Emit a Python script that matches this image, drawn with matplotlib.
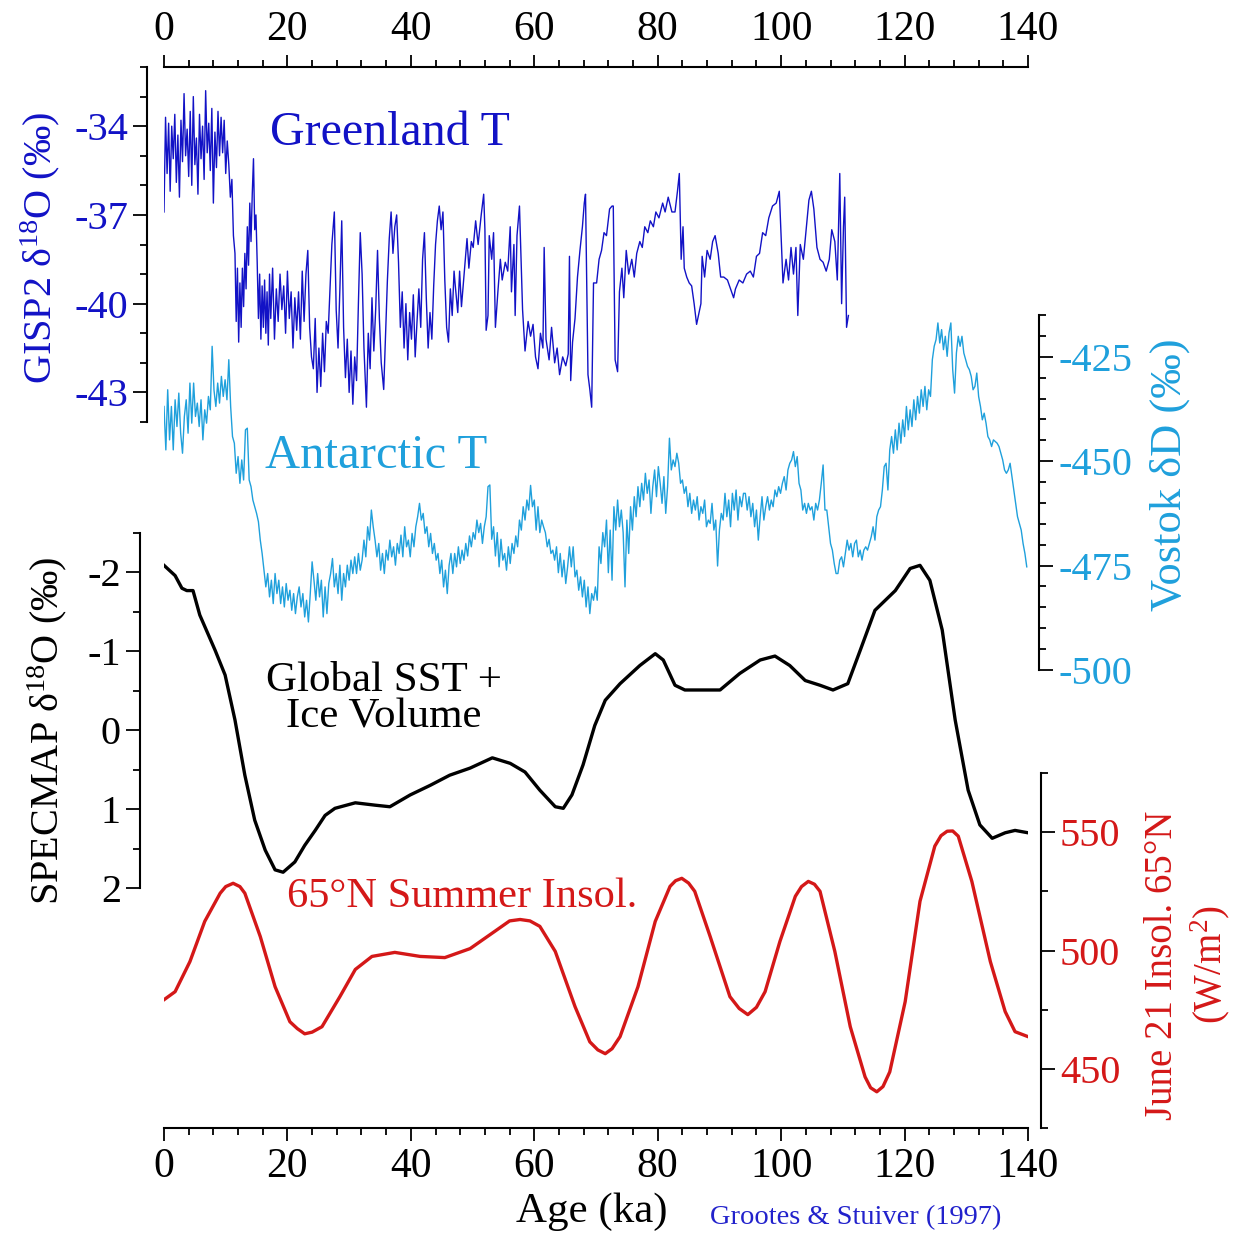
import numpy as np
import matplotlib
matplotlib.use("Agg")
import matplotlib.pyplot as plt
from matplotlib.ticker import MultipleLocator, FixedLocator

plt.rcParams['font.family'] = 'Liberation Serif'
plt.rcParams['mathtext.fontset'] = 'custom'
plt.rcParams['mathtext.rm'] = 'Liberation Serif'
plt.rcParams['mathtext.default'] = 'regular'
plt.rcParams['axes.unicode_minus'] = False

#==================== data ====================#
# GISP2 d18O (permil) vs age (ka)
gisp_age = [0.0, 0.25, 0.5, 0.75, 1.0, 1.25, 1.5, 1.75, 2.0, 2.25, 2.5, 2.75, 3.0, 3.25, 3.5, 3.75, 4.0, 4.25, 4.5, 4.75,
            5.0, 5.25, 5.5, 5.75, 6.0, 6.25, 6.5, 6.75, 7.0, 7.25, 7.5, 7.75, 8.0, 8.25, 8.5, 8.75, 9.0, 9.25, 9.5, 9.75,
            10.0, 10.25, 10.5, 10.75, 11.0, 11.25,
            11.5, 11.7, 11.9, 12.1, 12.3, 12.5, 12.7, 12.9, 13.1, 13.3, 13.5, 13.7, 13.9, 14.1, 14.3, 14.5, 14.7, 14.9,
            15.1, 15.3, 15.5, 15.7, 15.9, 16.1, 16.3, 16.5, 16.7, 16.9, 17.1,
            17.3, 17.6, 17.9, 18.2, 18.5, 18.8, 19.1, 19.4, 19.7, 20.0, 20.3, 20.6, 20.9, 21.2, 21.5, 21.8, 22.1, 22.4, 22.7, 23.0, 23.3, 23.6, 23.9,
            24.2, 24.5, 24.8, 25.1, 25.4, 25.7, 26.0, 26.3, 26.6, 26.9, 27.2, 27.6, 27.9, 28.2, 28.5, 28.8, 29.1, 29.4, 29.7, 30.0, 30.3, 30.6, 30.9, 31.2,
            31.5, 31.8, 32.1, 32.4, 32.8, 33.1, 33.4, 33.7, 34.0, 34.3, 34.6, 34.9, 35.2, 35.6, 35.9, 36.2, 36.5, 36.8, 37.1, 37.4, 37.7, 38.0,
            38.3, 38.6, 38.9, 39.2, 39.5, 39.8, 40.1, 40.4, 40.7, 41.0, 41.3, 41.6, 41.9, 42.2, 42.5, 42.8, 43.1, 43.4, 43.7, 44.0, 44.3, 44.6, 44.9, 45.2, 45.5, 45.8, 46.1, 46.4, 46.7, 47.0,
            47.2, 47.6, 47.9, 48.2, 48.7, 49.1, 49.4, 49.8, 50.1, 50.5, 50.9, 51.4, 51.8, 52.0, 52.2, 52.5, 52.7, 53.1, 53.4, 53.7, 54.1, 54.5, 54.8, 55.3, 55.7, 56.1, 56.3, 56.7, 56.9,
            57.2, 57.6, 57.9, 58.1, 58.5, 59.0, 59.4, 59.8, 60.2, 60.6, 61.0, 61.4, 61.6, 61.9, 62.4, 62.8, 63.3, 63.7, 64.1, 64.6, 65.1, 65.5, 65.7, 65.9,
            66.2, 66.6, 67.0, 67.4, 67.8, 68.1, 68.3, 68.7, 69.0, 69.3, 69.6, 70.1, 70.5, 70.9, 71.3, 71.7, 72.2, 72.6, 72.8, 73.1, 73.5,
            73.8, 74.2, 74.5, 74.9, 75.3, 75.8, 76.2, 76.6, 77.1, 77.5, 77.9, 78.4, 78.8, 79.3, 79.7, 80.2, 80.8, 81.2, 81.7, 82.3, 82.8, 83.2, 83.5,
            83.8, 84.1, 84.3, 84.7, 85.1, 85.5, 85.9, 86.3, 86.6, 87.0, 87.2, 87.6, 88.0, 88.5, 88.9, 89.3, 89.8, 90.2, 90.7, 91.3, 91.8, 92.3, 92.6, 93.2,
            93.8, 94.4, 95.0, 95.5, 96.0, 96.5, 97.0, 97.5, 98.0, 98.6, 99.2, 99.7, 100.3, 100.8, 101.2, 101.6, 102.0, 102.4, 102.7, 103.1, 103.6, 104.0, 104.5, 104.9,
            105.3, 105.8, 106.3, 106.8, 107.3, 107.8, 108.2, 108.7, 109.1, 109.5, 109.8, 110.1, 110.3, 110.6, 110.9]
gisp_d18o = [-36.9, -33.7, -35.6, -33.9, -36.2, -34.0, -35.1, -33.6, -35.9, -34.3, -36.4, -33.8, -35.2, -32.9, -35.0, -34.1, -35.7, -33.5, -36.0, -33.0,
             -35.3, -34.4, -36.3, -33.6, -35.1, -34.0, -35.8, -32.8, -34.9, -33.9, -35.5, -33.4, -36.6, -34.2, -35.4, -33.5, -35.0, -33.7, -34.9, -33.8,
             -35.6, -34.5, -35.3, -36.4, -35.8, -37.7,
             -38.3, -40.6, -38.8, -41.3, -39.3, -40.8, -38.8, -40.1, -38.3, -39.5, -37.4, -38.7, -36.6, -37.9, -36.3, -35.1, -37.5, -37.0,
             -38.6, -40.5, -39.0, -41.2, -39.4, -40.8, -39.2, -41.0, -39.6, -41.4, -39.0,
             -40.5, -38.8, -41.2, -39.5, -40.6, -39.0, -40.2, -39.4, -41.0, -38.9, -40.5, -39.6, -41.5, -39.8, -40.9, -39.6, -41.2, -38.9, -40.6, -39.0, -38.2, -40.8, -41.8,
             -42.2, -40.5, -43.0, -41.5, -42.8, -41.0, -42.3, -40.6, -41.0, -39.5, -38.0, -36.9, -40.2, -41.5, -39.5, -37.2, -40.8, -42.5, -41.2, -43.0, -41.6, -43.4, -41.8, -42.6,
             -40.0, -37.6, -39.0, -41.5, -43.5, -41.0, -42.2, -39.8, -41.6, -40.2, -38.2, -40.5, -42.0, -42.9, -41.0, -39.2, -37.8, -36.9, -38.3, -37.4, -37.0, -38.6,
             -40.8, -39.6, -41.5, -40.0, -41.9, -40.3, -41.2, -39.7, -41.8, -40.6, -39.5, -40.8, -38.5, -37.6, -39.8, -41.5, -40.3, -41.2, -39.4, -38.0, -37.2, -36.7, -37.5, -36.9, -39.2, -40.8, -41.3, -39.5, -40.4, -38.9,
             -39.4, -40.3, -38.9, -40.1, -38.8, -37.8, -38.8, -37.9, -38.1, -37.2, -38.0, -37.0, -36.3, -37.5, -40.9, -40.4, -37.7, -38.5, -37.6, -40.8, -39.6, -38.5, -39.2, -38.6, -38.9, -37.4, -39.6, -38.0, -40.4,
             -37.7, -36.7, -38.8, -40.2, -41.6, -40.6, -41.1, -40.7, -41.8, -42.2, -41.0, -41.5, -38.1, -41.2, -41.9, -40.8, -42.0, -41.5, -42.4, -41.8, -42.1, -41.7, -38.4, -42.6,
             -41.3, -40.5, -39.1, -38.2, -37.4, -36.6, -36.3, -42.4, -42.9, -43.5, -39.3, -39.3, -38.5, -38.2, -37.6, -37.7, -36.8, -36.7, -36.7, -41.9, -42.3,
             -39.6, -38.8, -39.8, -38.2, -39.0, -38.5, -39.1, -38.3, -37.9, -38.1, -37.4, -37.6, -37.2, -37.4, -36.9, -37.1, -36.6, -36.9, -36.4, -36.9, -36.9, -36.2, -35.6,
             -38.5, -37.4, -38.8, -39.1, -39.3, -39.4, -40.0, -40.7, -40.4, -40.0, -38.4, -39.1, -38.2, -38.5, -37.9, -37.7, -38.3, -39.1, -39.1, -39.2, -39.5, -39.8, -39.5, -39.2,
             -39.3, -39.0, -38.9, -39.1, -38.4, -38.3, -37.6, -37.7, -37.1, -36.7, -36.6, -36.2, -39.3, -38.5, -39.2, -38.1, -39.0, -38.1, -40.4, -38.0, -38.5, -37.6, -36.5, -36.2,
             -36.8, -38.1, -38.5, -38.6, -38.9, -38.5, -37.5, -37.9, -39.2, -35.6, -40.0, -37.4, -36.4, -40.8, -40.4]

# Vostok dD (permil), one value every 0.3 ka from 0 to 139.8 ka
vostok_step = 0.3
vostok_dD = [-436.9, -447.3, -432.9, -444.9, -436.9, -447.3, -435.3, -441.7, -433.7, -443.3,
             -448.1, -439.3, -435.3, -443.3, -431.3, -440.9, -431.3, -439.3, -436.1, -441.7,
             -435.3, -444.9, -437.7, -440.9, -434.5, -437.7, -422.5, -433.0, -436.9, -431.3,
             -436.1, -429.7, -434.5, -430.5, -435.3, -425.7, -436.9, -444.1, -445.7, -452.9,
             -448.9, -455.3, -449.7, -454.5, -442.5, -442.1, -454.5, -456.1, -459.3, -460.9,
             -462.5, -464.5, -468.9, -472.1, -476.1, -480.1, -476.9, -482.5, -478.5, -484.1,
             -476.9, -481.7, -478.5, -484.1, -480.1, -484.9, -479.3, -483.3, -480.9, -485.7,
             -481.7, -486.5, -482.5, -480.1, -484.9, -481.7, -487.3, -483.3, -488.5, -481.7,
             -474.1, -478.5, -483.3, -476.9, -482.5, -478.5, -487.3, -480.1, -486.5, -479.3,
             -476.9, -473.3, -480.1, -476.9, -481.7, -474.9, -483.3, -476.9, -480.1, -474.9,
             -478.5, -473.7, -476.9, -472.9, -476.9, -472.1, -476.1, -473.7, -468.9, -472.9,
             -465.7, -468.9, -461.7, -465.7, -468.9, -472.9, -469.7, -476.1, -472.1, -476.9,
             -471.3, -473.7, -468.9, -472.9, -470.5, -474.9, -469.7, -472.1, -467.7, -472.9,
             -465.7, -470.5, -468.9, -472.9, -467.3, -470.5, -465.7, -463.3, -460.1, -464.1,
             -462.5, -467.3, -465.7, -470.5, -467.3, -472.1, -469.7, -473.7, -472.1, -476.9,
             -473.7, -480.1, -476.1, -481.7, -474.9, -472.1, -476.9, -472.1, -475.3, -470.5,
             -474.5, -471.3, -473.7, -469.7, -472.7, -467.9, -470.5, -467.1, -468.7, -464.1,
             -467.1, -464.9, -469.7, -465.7, -463.3, -456.1, -455.7, -468.7, -465.7, -472.7,
             -467.1, -475.3, -468.7, -473.7, -472.1, -476.1, -470.5, -474.5, -469.7, -472.1,
             -467.9, -470.5, -464.1, -466.5, -460.9, -464.1, -459.3, -461.7, -455.8, -460.9,
             -459.3, -466.5, -460.9, -467.1, -464.1, -465.7, -467.1, -470.5, -468.7, -472.1,
             -471.3, -473.7, -470.5, -476.7, -472.1, -477.7, -473.7, -479.3, -475.3, -470.5,
             -475.3, -470.5, -477.7, -476.1, -480.9, -477.7, -482.5, -478.5, -484.9, -480.1,
             -486.5, -481.7, -483.3, -480.1, -483.3, -470.5, -474.5, -467.1, -470.5, -464.1,
             -476.7, -466.5, -478.5, -460.9, -466.5, -459.3, -465.7, -461.7, -467.1, -480.1,
             -464.1, -472.1, -460.9, -466.5, -458.5, -463.3, -456.1, -460.9, -455.3, -459.3,
             -452.9, -457.7, -454.5, -462.5, -456.1, -452.1, -458.5, -451.3, -455.3, -460.1,
             -453.7, -462.5, -456.1, -444.5, -452.1, -449.7, -451.3, -448.1, -450.5, -455.3,
             -454.5, -457.7, -456.1, -460.9, -457.7, -462.5, -459.3, -461.7, -458.5, -464.1,
             -460.9, -462.5, -459.3, -465.7, -464.1, -464.9, -460.1, -466.5, -464.1, -475.1,
             -466.5, -462.5, -464.1, -457.7, -463.3, -459.3, -465.7, -457.7, -461.7, -456.9,
             -464.1, -458.5, -460.9, -457.7, -457.7, -461.7, -458.5, -463.3, -460.1, -465.7,
             -461.7, -468.9, -463.3, -458.5, -464.1, -460.9, -458.5, -461.7, -459.3, -460.9,
             -456.9, -458.5, -456.1, -457.7, -455.3, -453.7, -456.9, -452.1, -450.5, -449.7,
             -447.7, -451.3, -448.9, -455.3, -456.9, -461.7, -460.1, -462.5, -460.1, -461.7,
             -460.9, -464.1, -460.1, -461.7, -459.3, -455.3, -450.9, -461.7, -461.7, -465.7,
             -469.7, -471.3, -474.5, -476.9, -476.9, -473.7, -472.9, -475.3, -472.1, -468.9,
             -471.3, -469.7, -472.9, -469.7, -468.9, -472.9, -471.3, -473.7, -471.3, -470.5,
             -471.3, -469.7, -468.1, -465.7, -468.9, -463.3, -461.7, -460.9, -456.9, -451.3,
             -450.5, -456.9, -447.3, -444.1, -448.1, -442.5, -447.3, -440.9, -445.7, -440.1,
             -444.1, -436.9, -442.5, -437.7, -441.7, -435.3, -440.1, -434.5, -438.5, -432.9,
             -436.9, -432.1, -437.7, -432.9, -434.5, -425.7, -422.5, -420.9, -416.9, -421.7,
             -418.5, -423.3, -420.1, -424.9, -419.3, -416.9, -428.1, -433.7, -424.1, -420.1,
             -422.5, -420.1, -424.1, -425.7, -427.3, -428.1, -429.7, -432.9, -432.1, -428.9,
             -434.5, -436.9, -440.1, -438.5, -440.9, -444.1, -444.9, -446.5, -444.9, -445.3,
             -445.7, -446.5, -448.1, -449.7, -452.1, -452.9, -452.1, -450.5, -453.7, -456.9,
             -460.1, -463.3, -464.9, -466.5, -469.7, -472.1, -475.3]

# SPECMAP d18O (permil)
specmap_age = [0, 1.8, 2.9, 3.7, 4.7, 5.8, 8.3, 9.9, 11.5, 13.1, 14.7, 16.4, 18.0, 19.3, 21.2, 22.8, 24.5, 26.1, 27.7, 31.0,
               34.2, 36.6, 39.9, 43.1, 46.3, 49.6, 53.2, 56.1, 58.5, 60.9, 63.4, 64.7, 66.1, 67.9, 69.8, 71.5, 73.9, 77.1, 79.6, 80.9,
               82.8, 84.4, 86.9, 90.1, 93.3, 96.6, 99.0, 101.4, 103.9, 106.3, 108.4, 110.8, 112.8, 115.2, 118.5, 120.9, 122.5, 124.1, 126.1, 128.2,
               130.3, 132.2, 134.2, 136.3, 137.9, 140]
specmap_d18o = [-2.09, -1.96, -1.80, -1.77, -1.77, -1.46, -1.01, -0.70, -0.13, 0.57, 1.14, 1.52, 1.77, 1.80, 1.67, 1.46, 1.27, 1.08, 0.99, 0.92,
                0.95, 0.97, 0.82, 0.70, 0.57, 0.48, 0.35, 0.42, 0.53, 0.76, 0.97, 0.99, 0.82, 0.44, -0.06, -0.38, -0.59, -0.82, -0.97, -0.89,
                -0.57, -0.51, -0.51, -0.51, -0.72, -0.89, -0.94, -0.82, -0.63, -0.57, -0.51, -0.59, -1.01, -1.52, -1.77, -2.05, -2.09, -1.90, -1.27, -0.13,
                0.76, 1.20, 1.37, 1.30, 1.27, 1.30]

# June 21 insolation at 65N (W/m2)
insol_age = [0, 1.8, 4.2, 6.6, 9.1, 10.0, 11.2, 12.3, 13.1, 15.6, 18.0, 20.4, 21.6, 22.8, 24.0, 25.6, 28.5, 31.0, 33.7, 37.4,
             41.5, 45.5, 49.6, 53.6, 56.0, 57.7, 59.3, 60.9, 63.4, 66.6, 69.0, 70.3, 71.5, 72.6, 73.9, 76.8, 79.6, 82.0, 82.9, 83.9,
             85.0, 86.0, 88.5, 91.7, 93.2, 94.6, 96.0, 97.4, 99.8, 102.3, 103.3, 104.4, 105.4, 106.3, 108.7, 111.2, 113.6, 114.5, 115.5, 116.5,
             117.6, 120.1, 122.5, 124.9, 125.9, 126.9, 127.8, 128.7, 130.9, 133.9, 136.3, 137.9, 140]
insol_wm2 = [479.2, 482.6, 495.3, 512.3, 524.2, 527.0, 528.4, 527.0, 524.2, 505.9, 484.7, 469.9, 467.0, 464.8, 465.5, 467.8, 480.5, 492.0, 497.5, 499.2,
             497.5, 497.0, 500.8, 508.1, 512.5, 513.1, 512.5, 510.2, 499.6, 476.3, 461.4, 458.0, 456.4, 458.5, 463.6, 484.7, 512.3, 527.1, 529.5, 530.5,
             528.5, 525.0, 505.9, 480.5, 475.5, 472.9, 476.0, 482.6, 503.8, 522.9, 527.0, 529.2, 528.0, 525.0, 499.6, 467.8, 446.6, 442.0, 440.3, 442.5,
             448.7, 478.4, 520.8, 544.1, 548.5, 550.4, 550.5, 548.3, 529.2, 495.3, 474.2, 465.7, 463.6]

age_ticks = [0, 20, 40, 60, 80, 100, 120, 140]
gisp_ticks = [-43, -40, -37, -34]
vostok_ticks = [-500, -475, -450, -425]
specmap_ticks = [-2, -1, 0, 1, 2]
insol_ticks = [450, 500, 550]

#==================================================================#
BLUE = '#1212c6'
LBLUE = '#1fa0dc'
RED = '#d41818'

W, H = 1236, 1233
fig = plt.figure(figsize=(W / 100, H / 100), dpi=100)


def fx(x):
    return x / W


def fy(y):
    return 1 - y / H


def make_axes(top_px, bot_px):
    ax = fig.add_axes([fx(164), fy(bot_px), (1028 - 164) / W, (bot_px - top_px) / H])
    ax.set_facecolor('none')
    ax.set_xlim(0, 140)
    for s in ax.spines.values():
        s.set_visible(False)
        s.set_linewidth(1.5)
    ax.tick_params(axis='x', which='both', bottom=False, top=False, labelbottom=False, labeltop=False)
    return ax


def style_y(ax, side, color, ticks, minor, offset):
    ax.spines[side].set_visible(True)
    ax.spines[side].set_position(('outward', offset))
    ax.yaxis.set_ticks_position(side)
    ax.yaxis.set_label_position(side)
    ax.yaxis.set_major_locator(FixedLocator(ticks))
    ax.yaxis.set_minor_locator(MultipleLocator(minor))
    ax.tick_params(axis='y', which='major', length=10, width=1.3, labelsize=29, labelcolor=color, pad=4, direction='out')
    ax.tick_params(axis='y', which='minor', length=5, width=1.3, direction='out')


def style_x(ax, where):
    ax.spines[where].set_visible(True)
    ax.xaxis.set_major_locator(FixedLocator(age_ticks))
    ax.xaxis.set_minor_locator(MultipleLocator(4))
    if where == 'top':
        ax.tick_params(axis='x', which='both', top=True, labeltop=True, direction='out')
        pad = 4
    else:
        ax.tick_params(axis='x', which='both', bottom=True, labelbottom=True, direction='out')
        pad = 5
    ax.tick_params(axis='x', which='major', length=9, width=1.3, labelsize=30, pad=pad)
    ax.tick_params(axis='x', which='minor', length=5, width=1.3)


# insolation (bottom)
ax_i = make_axes(773, 1128)
ax_i.plot(insol_age, insol_wm2, color=RED, lw=2.4)
ax_i.set_ylim(425, 575)
style_y(ax_i, 'right', RED, insol_ticks, 25, 9)
style_x(ax_i, 'bottom')

# SPECMAP
ax_s = make_axes(533, 888)
ax_s.plot(specmap_age, specmap_d18o, color='black', lw=2.4)
ax_s.set_ylim(2, -2.5)
style_y(ax_s, 'left', 'black', specmap_ticks, 0.5, 17)

# Vostok
ax_v = make_axes(315, 670)
vostok_age = np.arange(len(vostok_dD)) * vostok_step
ax_v.plot(vostok_age, vostok_dD, color=LBLUE, lw=1.0)
ax_v.set_ylim(-500, -415)
style_y(ax_v, 'right', LBLUE, vostok_ticks, 5, 8)

# GISP2 (top)
ax_g = make_axes(67, 422)
ax_g.plot(gisp_age, gisp_d18o, color=BLUE, lw=1.0)
ax_g.set_ylim(-44, -32)
style_y(ax_g, 'left', BLUE, gisp_ticks, 1, 12)
style_x(ax_g, 'top')

# axis titles
fig.text(fx(40), fy(248), 'GISP2 δ$^{18}$O (‰)', rotation=90, ha='center', va='center', color=BLUE, fontsize=29)
fig.text(fx(1170), fy(475), 'Vostok δD (‰)', rotation=90, ha='center', va='center', color=LBLUE, fontsize=32)
fig.text(fx(47), fy(731), 'SPECMAP δ$^{18}$O (‰)', rotation=90, ha='center', va='center', color='black', fontsize=29)
fig.text(fx(1188), fy(965), 'June 21 Insol. 65°N\n(W/m$^2$)', rotation=90, ha='center', va='center',
         color=RED, fontsize=28, linespacing=1.25, multialignment='center')

# curve labels
fig.text(fx(270), fy(133), 'Greenland T', ha='left', va='center', color=BLUE, fontsize=34.5)
fig.text(fx(265), fy(456), 'Antarctic T', ha='left', va='center', color=LBLUE, fontsize=35)
fig.text(fx(384), fy(699), 'Global SST +\nIce Volume', ha='center', va='center', color='black', fontsize=31, linespacing=0.95)
fig.text(fx(287), fy(897), '65°N Summer Insol.', ha='left', va='center', color=RED, fontsize=30.5)
fig.text(fx(592), fy(1212), 'Age (ka)', ha='center', va='center', color='black', fontsize=31)
fig.text(fx(710), fy(1218), 'Grootes & Stuiver (1997)', ha='left', va='center', color='#2222cc', fontsize=20.5)

fig.savefig('out.png', dpi=100)
